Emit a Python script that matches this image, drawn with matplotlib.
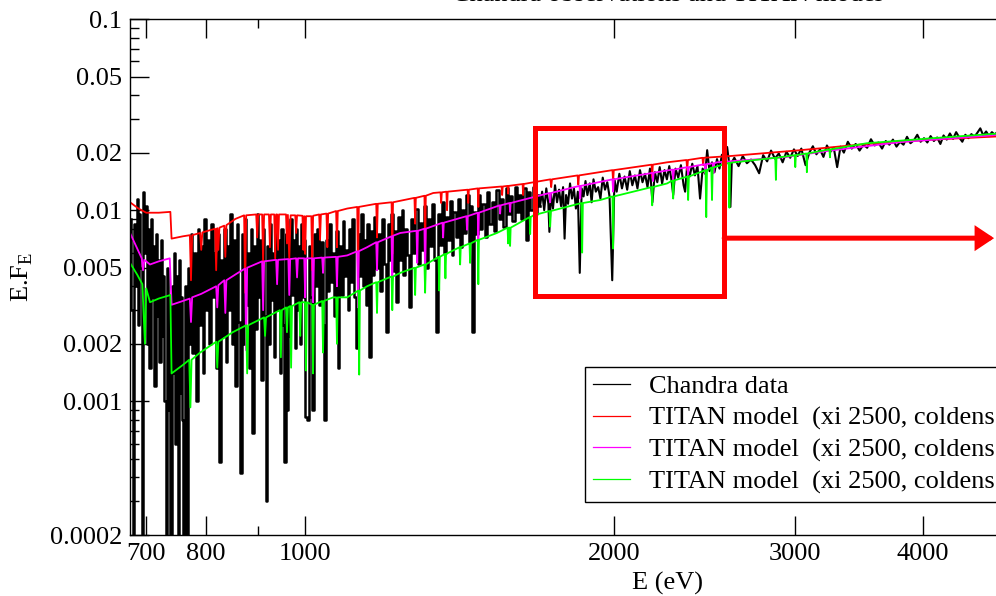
import numpy as np
import matplotlib
matplotlib.use('Agg')
import matplotlib.pyplot as plt
from matplotlib.patches import Rectangle
from matplotlib.lines import Line2D
from matplotlib.ticker import FixedLocator, FixedFormatter, NullFormatter

plt.rcParams['font.family'] = 'Liberation Serif'
plt.rcParams['mathtext.fontset'] = 'custom'
plt.rcParams['mathtext.rm'] = 'Liberation Serif'

# energies in eV, fluxes in units of 1e-3
chandra_low = [(676, 9.0), (678, 3.0), (680, 0.1), (682, 8.5), (684, 4.0), (686, 11.5), (688, 2.5), (690, 9.5),
               (692, 5.0), (694, 0.1), (696, 12.5), (698, 6.0), (700, 10.5), (702, 2.0), (704, 8.0), (706, 1.5),
               (708, 9.0), (710, 3.5), (712, 6.5), (714, 1.2), (716, 7.5), (718, 2.8), (720, 5.5), (722, 1.6),
               (724, 7.0), (726, 2.2), (728, 4.5), (730, 1.0), (732, 0.1), (734, 5.0), (736, 0.9), (738, 3.5),
               (740, 0.1), (742, 4.0), (744, 1.4), (746, 6.0), (748, 0.6), (750, 4.5), (752, 0.1), (754, 5.5),
               (756, 1.1), (758, 3.5), (760, 0.8), (762, 0.1), (764, 4.0), (766, 1.5), (768, 0.1), (770, 5.0),
               (772, 2.0)]
chandra_mid = [(775, 7.5), (778, 1.8), (781, 6.0), (784, 1.0), (787, 8.0), (790, 2.5), (793, 6.5), (796, 1.4),
               (799, 9.0), (802, 3.0), (805, 7.0), (808, 2.0), (811, 8.5), (814, 3.5), (817, 6.0), (820, 1.5),
               (823, 7.5), (826, 0.48), (829, 5.5), (832, 2.2), (835, 8.0), (838, 1.6), (841, 6.5), (844, 3.0),
               (847, 9.5), (850, 2.0), (853, 7.0), (856, 1.2), (859, 8.5), (862, 2.6), (866, 0.42), (869, 7.5),
               (872, 2.0), (875, 9.0), (878, 3.2), (881, 6.0), (884, 1.5), (887, 8.0), (890, 0.68), (893, 6.5),
               (896, 2.4), (899, 9.5), (902, 3.5), (905, 7.0), (908, 1.3), (911, 8.0), (914, 2.8), (916, 0.30),
               (919, 6.5), (922, 2.0), (925, 8.5), (928, 3.4), (931, 6.0), (934, 1.7), (937, 9.0), (940, 3.0),
               (943, 7.0), (946, 1.4), (949, 8.0), (952, 2.5), (956, 0.48), (958, 7.5), (960, 0.9), (963, 6.5),
               (966, 2.2), (969, 9.0), (972, 3.6), (975, 7.0), (978, 1.9), (981, 8.0), (984, 3.0), (987, 6.5),
               (990, 2.0), (993, 8.5), (996, 3.5), (999, 7.0), (1002, 0.83)]
chandra_high = [(1006, 0.80), (1010, 6.5), (1014, 3.5), (1018, 0.90), (1022, 7.5), (1026, 4.0), (1030, 8.0),
                (1034, 3.2), (1038, 6.8), (1042, 2.5), (1046, 0.80), (1050, 7.0), (1054, 3.8), (1058, 8.5),
                (1062, 4.2), (1066, 6.0), (1070, 2.8), (1074, 7.8), (1078, 1.5), (1082, 6.5), (1086, 3.6),
                (1090, 8.8), (1094, 4.5), (1098, 6.2), (1102, 3.0), (1106, 8.0), (1110, 4.2), (1114, 9.0),
                (1118, 3.5), (1124, 1.9), (1128, 7.5), (1132, 4.5), (1136, 9.5), (1140, 4.0), (1144, 7.0),
                (1148, 3.2), (1152, 8.5), (1157, 1.7), (1162, 7.8), (1166, 4.6), (1170, 9.2), (1175, 5.0),
                (1180, 7.5), (1185, 3.8), (1190, 9.0), (1196, 5.2), (1202, 2.3), (1206, 8.5), (1211, 5.5),
                (1216, 9.5), (1221, 4.8), (1226, 7.8), (1229, 3.3), (1234, 9.2), (1239, 5.5), (1244, 10.0),
                (1249, 4.6), (1254, 8.0), (1260, 5.8), (1266, 3.1), (1272, 9.0), (1278, 6.0), (1284, 10.2),
                (1290, 5.2), (1296, 8.6), (1302, 6.2), (1308, 10.5), (1314, 5.0), (1320, 9.0), (1326, 6.5),
                (1332, 10.8), (1338, 5.5), (1345, 2.3), (1350, 9.5), (1356, 6.6), (1362, 11.0), (1368, 6.0),
                (1374, 9.2), (1380, 7.0), (1386, 11.2), (1392, 5.8), (1398, 9.8), (1405, 7.2), (1412, 11.5),
                (1418, 6.4), (1425, 10.0), (1432, 7.6), (1440, 12.0), (1446, 6.8), (1452, 10.5), (1458, 2.3),
                (1464, 9.8), (1470, 7.5), (1478, 12.0), (1485, 8.0), (1492, 10.8), (1500, 7.2), (1508, 12.5),
                (1516, 8.5), (1524, 11.0), (1532, 7.8), (1540, 12.8), (1548, 9.0), (1556, 11.5), (1564, 8.2),
                (1572, 13.0), (1580, 9.5), (1588, 11.8), (1596, 8.8), (1604, 13.2), (1612, 9.8), (1620, 12.0),
                (1628, 9.0), (1636, 13.0), (1646, 7.0), (1654, 12.5), (1662, 10.0), (1670, 13.2), (1678, 9.5),
                (1686, 12.0), (1694, 10.5)]
chandra_box = [(1702, 12.5), (1710, 10.0), (1718, 13.0), (1726, 10.8), (1730, 7.7), (1736, 12.2), (1744, 10.2),
               (1752, 13.5), (1760, 11.0), (1768, 12.8), (1776, 10.5), (1784, 13.2), (1790, 7.1), (1796, 12.0),
               (1804, 10.8), (1812, 13.8), (1820, 11.5), (1828, 13.0), (1836, 10.2), (1844, 12.5), (1852, 4.7),
               (1860, 13.0), (1868, 11.8), (1876, 14.2), (1884, 12.0), (1894, 13.8), (1902, 11.0), (1910, 14.5),
               (1920, 12.5), (1930, 13.2), (1940, 11.5), (1950, 14.8), (1960, 12.8), (1970, 14.0), (1980, 11.8),
               (1992, 4.3), (2002, 14.5), (2012, 12.5), (2024, 15.5), (2036, 13.0), (2048, 15.0), (2060, 12.8),
               (2072, 16.0), (2084, 13.5), (2096, 15.2), (2108, 13.0), (2120, 16.2), (2132, 14.0), (2144, 15.5),
               (2156, 13.2), (2168, 16.5), (2180, 11.0), (2192, 15.8), (2204, 14.0), (2216, 16.8), (2228, 13.8),
               (2240, 16.2), (2252, 14.5), (2264, 17.0), (2276, 14.2), (2284, 12.0), (2296, 16.5), (2310, 14.8),
               (2324, 17.2), (2338, 13.5), (2346, 12.5), (2356, 16.8), (2370, 15.0), (2384, 17.5), (2398, 15.2),
               (2412, 17.0), (2426, 11.5), (2440, 16.5), (2454, 15.5), (2465, 20.6), (2478, 16.0), (2492, 17.8),
               (2506, 15.8), (2520, 18.5), (2534, 16.5), (2548, 19.5), (2562, 17.0), (2578, 21.4), (2590, 17.5),
               (2597, 10.4), (2605, 17.8)]
chandra_hard = [(2620, 18.8), (2645, 17.0), (2670, 19.2), (2695, 17.6), (2720, 18.4), (2745, 17.2), (2770, 15.6),
                (2795, 19.4), (2820, 18.0), (2845, 20.5), (2870, 18.6), (2895, 19.8), (2920, 17.8), (2945, 20.2),
                (2970, 18.8), (2995, 20.8), (3020, 19.2), (3045, 21.0), (3074, 17.2), (3100, 20.0), (3125, 21.6),
                (3150, 19.6), (3175, 20.8), (3200, 19.0), (3225, 21.8), (3250, 20.2), (3275, 21.2), (3300, 16.8),
                (3325, 21.5), (3350, 20.0), (3380, 22.8), (3410, 21.0), (3440, 22.2), (3470, 20.5), (3500, 22.0),
                (3530, 21.2), (3560, 23.5), (3590, 21.8), (3620, 22.6), (3650, 21.0), (3680, 23.0), (3710, 22.0),
                (3740, 23.4), (3770, 21.5), (3800, 22.8), (3830, 22.0), (3860, 24.2), (3890, 22.4), (3920, 23.2),
                (3950, 24.8), (3980, 22.8), (4010, 23.8), (4040, 22.6), (4070, 24.4), (4100, 23.0), (4130, 24.0),
                (4160, 22.2), (4190, 24.6), (4220, 23.4), (4250, 25.2), (4280, 23.6), (4310, 25.6), (4340, 24.0),
                (4370, 22.8), (4400, 24.8), (4430, 23.8), (4460, 25.0), (4490, 24.2), (4520, 25.4), (4550, 26.8),
                (4580, 24.6), (4610, 25.8), (4640, 24.4), (4670, 25.6), (4700, 24.8), (4730, 25.8), (4760, 25.0),
                (4800, 25.5)]

titan_red = [(675, 11.0), (688, 10.2), (700, 9.7), (720, 9.7), (739, 9.8), (741, 7.1), (760, 7.3), (772, 7.4),
             (774, 4.3), (776, 7.4), (790, 7.6), (792, 6.2), (794, 7.65), (817, 8.0), (819, 4.85), (821, 8.05),
             (823, 6.2), (825, 8.1), (834, 8.3), (836, 5.7), (838, 8.35), (855, 9.0), (872, 9.4), (874, 3.7),
             (876, 9.4), (896, 9.5), (898, 7.2), (900, 9.5), (908, 9.5), (910, 5.3), (912, 9.5), (922, 9.5),
             (924, 6.4), (926, 9.5), (933, 9.5), (935, 5.6), (937, 9.5), (939, 9.5), (941, 6.2), (943, 9.5),
             (958, 9.5), (960, 6.7), (962, 9.45), (965, 5.5), (968, 9.4), (978, 9.4), (980, 7.6), (982, 9.4),
             (994, 9.35), (996, 6.2), (998, 9.3), (1000, 5.9), (1002, 9.3), (1014, 9.3), (1016, 4.85), (1018, 9.35),
             (1032, 9.5), (1034, 7.0), (1036, 9.5), (1049, 9.6), (1051, 6.4), (1053, 9.6), (1072, 9.9), (1074, 6.4),
             (1076, 9.9), (1099, 10.2), (1124, 10.4), (1126, 4.3), (1128, 10.4), (1173, 10.8), (1175, 7.2),
             (1177, 10.8), (1214, 11.0), (1216, 5.9), (1218, 11.0), (1278, 11.6), (1280, 8.5), (1282, 11.6),
             (1307, 11.9), (1309, 5.9), (1311, 11.9), (1333, 12.3), (1355, 12.4), (1357, 10.9), (1359, 12.4),
             (1373, 12.5), (1375, 10.0), (1377, 12.5), (1440, 12.8), (1442, 10.9), (1444, 12.8), (1473, 13.0),
             (1475, 10.4), (1477, 13.0), (1554, 13.3), (1556, 12.0), (1558, 13.3), (1575, 13.4), (1577, 12.2),
             (1579, 13.4), (1629, 13.7), (1631, 12.0), (1633, 13.7), (1657, 13.9), (1734, 14.5), (1737, 13.2),
             (1740, 14.5), (1843, 15.2), (1846, 13.6), (1849, 15.2), (1993, 16.2), (1996, 14.0), (1999, 16.2),
             (2176, 17.3), (2179, 14.9), (2182, 17.3), (2253, 17.8), (2353, 18.3), (2357, 16.2), (2361, 18.3),
             (2439, 18.8), (2443, 17.2), (2447, 18.8), (2597, 19.2), (3038, 20.6), (3528, 22.2), (4090, 23.4),
             (4800, 24.4)]

titan_magenta = [(675, 7.6), (686, 6.3), (693, 5.6), (695, 4.85), (697, 5.5), (706, 5.2), (720, 5.4), (738, 5.6),
                 (741, 3.2), (760, 3.35), (772, 3.45), (774, 2.6), (776, 3.5), (792, 3.65), (819, 4.0), (821, 3.1),
                 (823, 4.05), (834, 4.3), (836, 2.9), (838, 4.3), (860, 4.7), (874, 4.95), (876, 1.85), (878, 5.0),
                 (908, 5.4), (910, 3.0), (912, 5.4), (937, 5.5), (939, 4.1), (941, 5.5), (963, 5.55), (965, 3.6),
                 (967, 5.55), (980, 5.6), (982, 4.45), (984, 5.6), (998, 5.6), (1000, 3.5), (1002, 5.6), (1016, 5.6),
                 (1018, 3.3), (1020, 5.6), (1039, 5.65), (1041, 4.7), (1043, 5.65), (1072, 5.7), (1074, 4.0),
                 (1076, 5.7), (1099, 5.8), (1124, 6.1), (1126, 3.1), (1128, 6.1), (1149, 6.4), (1173, 6.8),
                 (1175, 4.85), (1177, 6.8), (1214, 7.3), (1216, 4.3), (1218, 7.35), (1238, 7.6), (1284, 7.8),
                 (1286, 5.3), (1288, 7.8), (1307, 8.0), (1309, 4.3), (1311, 8.0), (1361, 8.6), (1363, 7.2),
                 (1365, 8.6), (1426, 9.2), (1436, 9.3), (1438, 7.9), (1440, 9.3), (1473, 9.7), (1475, 6.8),
                 (1477, 9.7), (1547, 10.6), (1549, 9.6), (1551, 10.6), (1582, 10.9), (1584, 9.8), (1586, 10.9),
                 (1669, 11.7), (1730, 12.3), (1733, 11.0), (1736, 12.3), (1851, 13.4), (1854, 11.5), (1857, 13.4),
                 (1993, 14.5), (1996, 12.5), (1999, 14.5), (2170, 15.6), (2180, 15.7), (2183, 14.2), (2186, 15.7),
                 (2280, 16.3), (2284, 14.4), (2288, 16.3), (2358, 16.8), (2362, 15.4), (2366, 16.8), (2451, 17.4),
                 (2455, 15.6), (2459, 17.4), (2496, 17.6), (2500, 15.6), (2504, 17.6), (2521, 17.8), (2925, 18.9),
                 (3271, 20.6), (3802, 22.7), (4800, 24.9)]

titan_green = [(675, 5.3), (686, 4.6), (694, 4.1), (698, 2.0), (700, 3.9), (706, 3.3), (720, 3.45), (739, 3.6),
               (741, 1.4), (760, 1.55), (771, 1.65), (773, 0.93), (775, 1.65), (790, 1.8), (819, 2.05), (821, 1.5),
               (823, 2.05), (850, 2.3), (876, 2.5), (878, 1.4), (880, 2.5), (912, 2.75), (914, 2.2), (916, 2.75),
               (945, 3.0), (947, 1.7), (949, 3.0), (958, 3.1), (960, 2.3), (962, 3.1), (967, 3.15), (969, 1.5),
               (971, 3.15), (987, 3.3), (989, 2.2), (991, 3.3), (1000, 3.3), (1002, 1.45), (1004, 3.3), (1016, 3.2),
               (1018, 1.4), (1020, 3.2), (1039, 3.35), (1041, 1.8), (1043, 3.35), (1065, 3.5), (1072, 3.5),
               (1074, 2.0), (1076, 3.5), (1099, 3.5), (1127, 3.8), (1129, 1.38), (1131, 3.8), (1149, 4.0),
               (1173, 4.2), (1175, 2.9), (1177, 4.2), (1214, 4.5), (1216, 3.0), (1218, 4.5), (1238, 4.7),
               (1278, 5.0), (1280, 3.6), (1282, 5.0), (1307, 5.2), (1309, 3.7), (1311, 5.2), (1349, 5.7),
               (1351, 3.8), (1353, 5.7), (1368, 5.9), (1370, 4.4), (1372, 5.9), (1414, 6.4), (1416, 5.2),
               (1418, 6.4), (1446, 6.7), (1448, 5.3), (1450, 6.7), (1473, 7.0), (1475, 4.1), (1477, 7.0),
               (1538, 7.6), (1575, 8.1), (1577, 6.7), (1579, 8.1), (1582, 8.1), (1584, 6.5), (1586, 8.1),
               (1655, 9.2), (1657, 7.5), (1659, 9.2), (1669, 9.4), (1730, 9.9), (1733, 8.2), (1736, 9.9),
               (1859, 10.9), (1862, 6.0), (1865, 10.9), (1939, 11.3), (1993, 11.8), (1996, 6.3), (1999, 11.8),
               (2176, 13.2), (2179, 10.6), (2182, 13.2), (2253, 13.8), (2280, 14.3), (2284, 11.5), (2288, 14.3),
               (2358, 15.0), (2362, 11.3), (2366, 15.0), (2456, 16.2), (2460, 9.2), (2464, 16.2), (2488, 16.7),
               (2492, 11.3), (2496, 16.7), (2582, 17.6), (2587, 17.7), (2591, 10.3), (2595, 17.7), (2872, 18.8),
               (2876, 14.4), (2880, 18.8), (3000, 19.4), (3004, 16.8), (3008, 19.4), (3079, 19.8), (3083, 15.8),
               (3087, 19.8), (3243, 20.8), (3247, 18.9), (3251, 20.8), (3528, 22.4), (4090, 23.8), (4800, 25.3)]

legend_labels = ['Chandra data',
                 'TITAN model  (xi 2500, coldens',
                 'TITAN model  (xi 2500, coldens',
                 'TITAN model  (xi 2500, coldens']
xticks = [700, 800, 1000, 2000, 3000, 4000, 5000, 6000, 7000]
yticks = [0.0002, 0.001, 0.002, 0.005, 0.01, 0.02, 0.05, 0.1]
ytick_labels = ['0.0002', '0.001', '0.002', '0.005', '0.01', '0.02', '0.05', '0.1']

# zoomed region and arrow (eV, flux)
box_e = (1676, 2561)
box_f = (0.00355, 0.0269)
arrow_f = 0.00714
arrow_end = 4693


def unpack(pairs):
    e, f = zip(*pairs)
    return np.array(e, float), np.array(f, float) * 1e-3


fig = plt.figure(figsize=(9.96, 5.96), dpi=100)
ax = fig.add_axes([130 / 996, 61 / 596, 1073 / 996, 516 / 596])

# soft part is binned coarsely -> steps, hard part is plain
soft_e, soft_f = unpack(chandra_low + chandra_mid + chandra_high)
hard_e, hard_f = unpack(chandra_high[-1:] + chandra_box + chandra_hard)
ax.plot(soft_e, soft_f, color='black', lw=1.8, drawstyle='steps-mid')
ax.plot(hard_e, hard_f, color='black', lw=1.5)
for pairs, col in [(titan_red, '#ff0000'), (titan_magenta, '#ff00ff'), (titan_green, '#00ff00')]:
    e, f = unpack(pairs)
    ax.plot(e, f, color=col, lw=1.3)

ax.set_xscale('log')
ax.set_yscale('log')
ax.set_xlim(675, 7500)
ax.set_ylim(0.0002, 0.1)

ax.xaxis.set_major_locator(FixedLocator(xticks))
ax.xaxis.set_major_formatter(FixedFormatter([str(t) for t in xticks]))
ax.xaxis.set_minor_locator(FixedLocator([900]))
ax.xaxis.set_minor_formatter(NullFormatter())
ax.yaxis.set_major_locator(FixedLocator(yticks))
ax.yaxis.set_major_formatter(FixedFormatter(ytick_labels))
ymin = [k * 1e-4 for k in range(3, 10)] + [k * 1e-3 for k in (3, 4, 6, 7, 8, 9)] \
    + [k * 1e-2 for k in (3, 4, 6, 7, 8, 9)]
ax.yaxis.set_minor_locator(FixedLocator(ymin))
ax.yaxis.set_minor_formatter(NullFormatter())
ax.tick_params(which='both', direction='in', top=True, right=True, labelsize=19, width=1.0)
ax.tick_params(which='major', length=13.5)
ax.tick_params(which='minor', length=6.5)
ax.tick_params(axis='x', pad=6)
ax.tick_params(axis='y', pad=5.5)
for s in ax.spines.values():
    s.set_linewidth(1.0)

ax.add_patch(Rectangle((box_e[0], box_f[0]), box_e[1] - box_e[0], box_f[1] - box_f[0],
                       fill=False, edgecolor='#ff0000', lw=3.6, joinstyle='miter', zorder=5))
ax.annotate('', xy=(arrow_end, arrow_f), xytext=(box_e[1], arrow_f),
            arrowprops=dict(arrowstyle='-|>,head_length=9,head_width=6', mutation_scale=1,
                            color='#ff0000', lw=3.6, shrinkA=0, shrinkB=0, joinstyle='miter'),
            zorder=5)

handles = [Line2D([], [], color=c, lw=0.9) for c in ('black', '#ff0000', '#ff00ff', '#00ff00')]
leg = ax.legend(handles, legend_labels, loc='upper left', bbox_to_anchor=(585 / 996, 1 - 367 / 596),
                bbox_transform=fig.transFigure, fontsize=19, frameon=True, fancybox=False,
                edgecolor='black', framealpha=1, borderaxespad=0, borderpad=0.3,
                handlelength=1.4, handletextpad=0.72, labelspacing=0.3)
leg.get_frame().set_linewidth(1.0)

fig.text(667 / 996, 1 - 583 / 596, 'E (eV)', ha='center', va='center', fontsize=19)
fig.text(22 / 996, 1 - 277 / 596, r'E.F$_\mathrm{E}$', ha='center', va='center', rotation=90, fontsize=19)
fig.text(667 / 996, 1 - 1 / 596, 'Chandra observations and TITAN model', ha='center', va='baseline',
         fontsize=19)

fig.savefig('out.png', dpi=100)
